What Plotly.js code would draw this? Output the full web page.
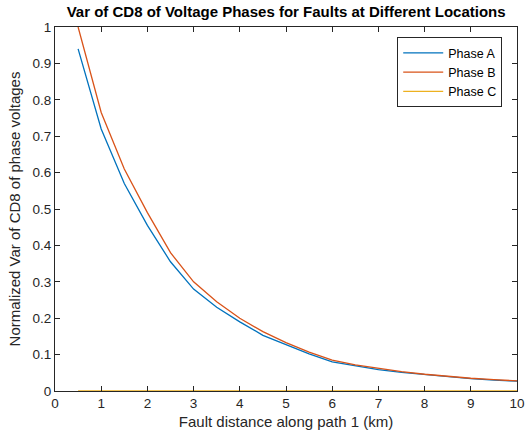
<!DOCTYPE html>
<html>
<head>
<meta charset="utf-8">
<script src="https://cdn.plot.ly/plotly-3.0.1.min.js"></script>
<style>html,body{margin:0;padding:0;background:#fff;}#chart{width:525px;height:436px;}</style>
</head>
<body>
<div id="chart"></div>
<script>
var distance = [0.5, 1, 1.5, 2, 2.5, 3, 3.5, 4, 4.5, 5, 5.5, 6, 6.5, 7, 7.5, 8, 8.5, 9, 9.5, 10];
var phaseA = [0.94, 0.72, 0.57, 0.455, 0.355, 0.28, 0.23, 0.19, 0.153, 0.127, 0.102, 0.08, 0.069, 0.059, 0.051, 0.045, 0.039, 0.034, 0.030, 0.027];
var phaseB = [1.0, 0.765, 0.61, 0.49, 0.38, 0.30, 0.245, 0.20, 0.163, 0.133, 0.107, 0.085, 0.072, 0.062, 0.053, 0.046, 0.040, 0.035, 0.031, 0.028];
var phaseC = [0, 0, 0, 0, 0, 0, 0, 0, 0, 0, 0, 0, 0, 0, 0, 0, 0, 0, 0, 0];
var seriesNames = ["Phase A", "Phase B", "Phase C"];
var colors = ["#0072BD", "#D95319", "#EDB120"];
var xTicks = [0,1,2,3,4,5,6,7,8,9,10];
var yTicks = [0,0.1,0.2,0.3,0.4,0.5,0.6,0.7,0.8,0.9,1];
var yTickText = ["0","0.1","0.2","0.3","0.4","0.5","0.6","0.7","0.8","0.9","1"];

var font = "Liberation Sans, Arial, Helvetica, sans-serif";
var data = [phaseA, phaseB, phaseC].map(function(y, i){
  return {x: distance, y: y, type: "scatter", mode: "lines", name: seriesNames[i],
          line: {color: colors[i], width: 1.3}, cliponaxis: true};
});
var axisCommon = {
  showline: true, linecolor: "#262626", linewidth: 1, mirror: "ticks",
  ticks: "inside", ticklen: 5, tickwidth: 1, tickcolor: "#262626",
  showgrid: false, zeroline: false,
  tickfont: {family: font, size: 13.5, color: "#262626"}
};
var layout = {
  width: 525, height: 436,
  margin: {l: 55, r: 8, t: 27, b: 45},
  paper_bgcolor: "#fff", plot_bgcolor: "#fff",
  title: {text: "<b>Var of CD8 of Voltage Phases for Faults at Different Locations</b>",
          font: {family: font, size: 15, color: "#000"}, x: 0.545, xanchor: "center", y: 0.985, yanchor: "top"},
  xaxis: Object.assign({}, axisCommon, {range: [0, 10], tickvals: xTicks, ticktext: xTicks.map(String),
          title: {text: "Fault distance along path 1 (km)", font: {family: font, size: 15, color: "#262626"}, standoff: 6}}),
  yaxis: Object.assign({}, axisCommon, {range: [0, 1], tickvals: yTicks, ticktext: yTickText,
          title: {text: "Normalized Var of CD8 of phase voltages", font: {family: font, size: 15, color: "#262626"}, standoff: 8}}),
  showlegend: true,
  legend: {x: 0.968, xanchor: "right", y: 0.972, yanchor: "top", bgcolor: "#fff",
           bordercolor: "#262626", borderwidth: 1, font: {family: font, size: 12.5, color: "#000"},
           tracegroupgap: 0, itemwidth: 40}
};
Plotly.newPlot("chart", data, layout, {displayModeBar: false, staticPlot: true});
</script>
</body>
</html>
